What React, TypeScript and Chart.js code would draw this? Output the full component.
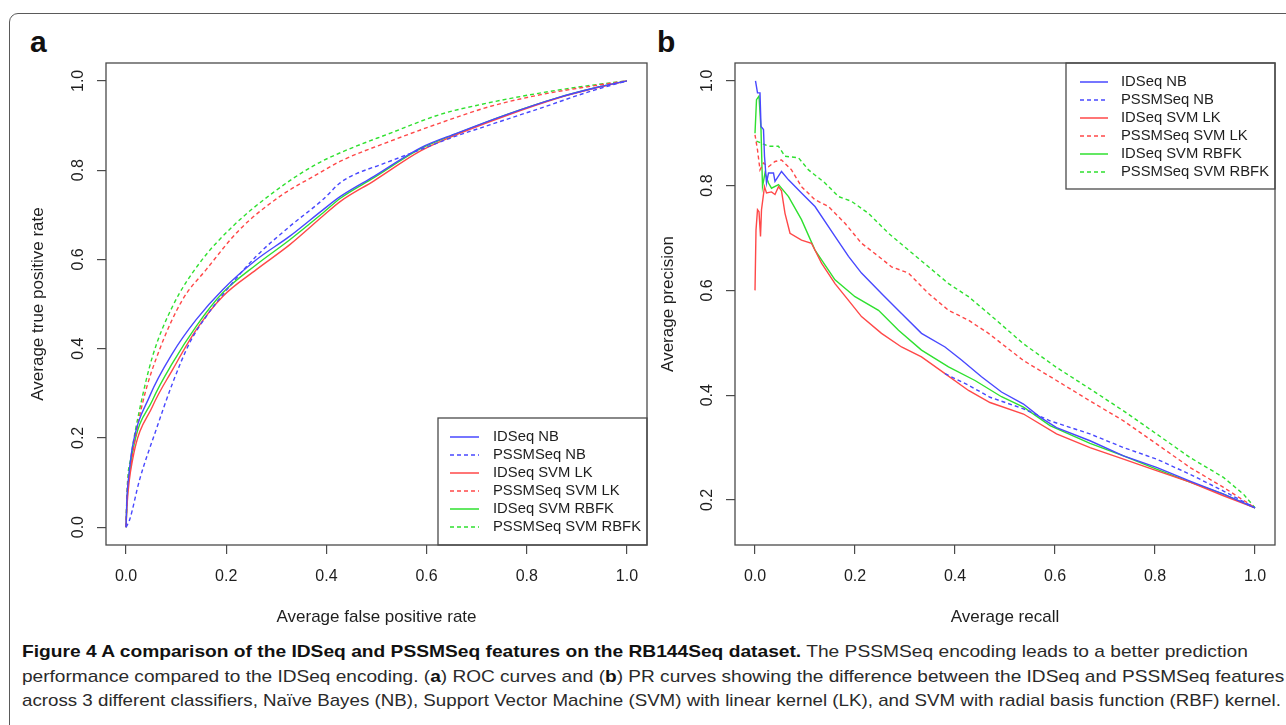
import React, { useEffect, useLayoutEffect, useRef } from "react";
import Chart from "chart.js/auto";

// ---------- shared series meta ----------
const SERIES_LABELS = ["IDSeq NB", "PSSMSeq NB", "IDSeq SVM LK", "PSSMSeq SVM LK", "IDSeq SVM RBFK", "PSSMSeq SVM RBFK"];
const SERIES_COLORS = ["#4848ff", "#4848ff", "#ff4848", "#ff4848", "#2fe02f", "#2fe02f"];
const SERIES_DASH: number[][] = [[], [4, 3], [], [4, 3], [], [4, 3]];

// ---------- tick labels ----------
const ROC_X_TICKS = [0, 0.2, 0.4, 0.6, 0.8, 1.0];
const ROC_Y_TICKS = [0, 0.2, 0.4, 0.6, 0.8, 1.0];
const PR_X_TICKS = [0, 0.2, 0.4, 0.6, 0.8, 1.0];
const PR_Y_TICKS = [0.2, 0.4, 0.6, 0.8, 1.0];

// ---------- (a) ROC curves ----------
const ROC_IDSEQ_NB_FPR = [0, 0.002, 0.005, 0.013, 0.047, 0.093, 0.14, 0.193, 0.26, 0.327, 0.393, 0.428, 0.495, 0.588, 0.661, 0.761, 0.861, 0.935, 1.0];
const ROC_IDSEQ_NB_TPR = [0, 0.07, 0.11, 0.181, 0.293, 0.39, 0.465, 0.532, 0.599, 0.652, 0.711, 0.741, 0.786, 0.85, 0.883, 0.925, 0.962, 0.984, 1.0];

const ROC_PSSMSEQ_NB_FPR = [0, 0.007, 0.027, 0.06, 0.093, 0.127, 0.16, 0.207, 0.26, 0.327, 0.393, 0.428, 0.46, 0.508, 0.588, 0.648, 0.728, 0.828, 0.928, 1.0];
const ROC_PSSMSEQ_NB_TPR = [0, 0.016, 0.106, 0.218, 0.323, 0.413, 0.472, 0.54, 0.607, 0.674, 0.734, 0.772, 0.792, 0.812, 0.846, 0.872, 0.902, 0.939, 0.977, 1.0];

const ROC_IDSEQ_LK_FPR = [0, 0.002, 0.013, 0.053, 0.093, 0.14, 0.193, 0.26, 0.327, 0.393, 0.428, 0.495, 0.588, 0.661, 0.761, 0.861, 0.935, 1.0];
const ROC_IDSEQ_LK_TPR = [0, 0.05, 0.151, 0.271, 0.353, 0.442, 0.517, 0.577, 0.633, 0.697, 0.73, 0.776, 0.843, 0.88, 0.923, 0.961, 0.983, 1.0];

const ROC_PSSMSEQ_LK_FPR = [0, 0.002, 0.01, 0.033, 0.067, 0.113, 0.16, 0.227, 0.307, 0.387, 0.428, 0.528, 0.628, 0.728, 0.828, 0.928, 1.0];
const ROC_PSSMSEQ_LK_TPR = [0, 0.07, 0.143, 0.278, 0.398, 0.51, 0.577, 0.667, 0.741, 0.794, 0.82, 0.865, 0.906, 0.943, 0.969, 0.988, 1.0];

const ROC_IDSEQ_RBFK_FPR = [0, 0.002, 0.013, 0.053, 0.093, 0.14, 0.193, 0.26, 0.327, 0.393, 0.428, 0.495, 0.588, 0.661, 0.761, 0.861, 0.935, 1.0];
const ROC_IDSEQ_RBFK_TPR = [0, 0.06, 0.167, 0.285, 0.368, 0.45, 0.525, 0.588, 0.644, 0.704, 0.737, 0.783, 0.848, 0.882, 0.925, 0.962, 0.984, 1.0];

const ROC_PSSMSEQ_RBFK_FPR = [0, 0.002, 0.01, 0.027, 0.053, 0.093, 0.147, 0.213, 0.293, 0.373, 0.428, 0.528, 0.628, 0.708, 0.828, 0.928, 1.0];
const ROC_PSSMSEQ_RBFK_TPR = [0, 0.08, 0.158, 0.263, 0.383, 0.495, 0.592, 0.674, 0.749, 0.809, 0.839, 0.883, 0.925, 0.947, 0.973, 0.99, 1.0];

// ---------- (b) PR curves ----------
const PR_IDSEQ_NB_REC = [0.001, 0.005, 0.01, 0.012, 0.017, 0.019, 0.023, 0.027, 0.037, 0.04, 0.053, 0.067, 0.093, 0.12, 0.16, 0.187, 0.213, 0.253, 0.293, 0.333, 0.38, 0.413, 0.453, 0.493, 0.537, 0.57, 0.603, 0.67, 0.737, 0.803, 0.87, 0.937, 1.0];
const PR_IDSEQ_NB_PREC = [1.0, 0.977, 0.977, 0.913, 0.907, 0.856, 0.805, 0.824, 0.824, 0.808, 0.827, 0.811, 0.786, 0.76, 0.703, 0.665, 0.633, 0.594, 0.556, 0.518, 0.492, 0.467, 0.435, 0.406, 0.383, 0.358, 0.338, 0.313, 0.284, 0.262, 0.236, 0.211, 0.185];

const PR_PSSMSEQ_NB_REC = [0.38, 0.427, 0.47, 0.537, 0.59, 0.67, 0.737, 0.803, 0.87, 0.937, 1.0];
const PR_PSSMSEQ_NB_PREC = [0.441, 0.419, 0.396, 0.374, 0.351, 0.326, 0.3, 0.278, 0.249, 0.217, 0.185];

const PR_IDSEQ_LK_REC = [0, 0.002, 0.005, 0.008, 0.011, 0.013, 0.019, 0.023, 0.033, 0.04, 0.047, 0.053, 0.06, 0.07, 0.093, 0.113, 0.133, 0.16, 0.187, 0.213, 0.253, 0.293, 0.333, 0.38, 0.427, 0.47, 0.537, 0.603, 0.67, 0.737, 0.803, 0.87, 0.937, 1.0];
const PR_IDSEQ_LK_PREC = [0.6, 0.715, 0.754, 0.75, 0.703, 0.754, 0.798, 0.786, 0.788, 0.783, 0.798, 0.79, 0.747, 0.709, 0.696, 0.69, 0.652, 0.613, 0.581, 0.55, 0.518, 0.492, 0.473, 0.441, 0.409, 0.386, 0.364, 0.326, 0.3, 0.278, 0.256, 0.234, 0.208, 0.185];

const PR_PSSMSEQ_LK_REC = [0, 0.005, 0.01, 0.017, 0.027, 0.04, 0.053, 0.073, 0.093, 0.12, 0.147, 0.18, 0.213, 0.247, 0.273, 0.307, 0.347, 0.387, 0.427, 0.467, 0.537, 0.603, 0.67, 0.737, 0.803, 0.87, 0.937, 1.0];
const PR_PSSMSEQ_LK_PREC = [0.897, 0.868, 0.83, 0.843, 0.836, 0.846, 0.849, 0.83, 0.798, 0.773, 0.76, 0.728, 0.69, 0.665, 0.645, 0.633, 0.594, 0.562, 0.543, 0.518, 0.466, 0.428, 0.389, 0.351, 0.307, 0.262, 0.224, 0.185];

const PR_IDSEQ_RBFK_REC = [0, 0.003, 0.008, 0.012, 0.015, 0.02, 0.027, 0.033, 0.047, 0.067, 0.093, 0.12, 0.16, 0.2, 0.247, 0.287, 0.333, 0.387, 0.44, 0.493, 0.537, 0.59, 0.67, 0.737, 0.803, 0.87, 0.937, 1.0];
const PR_IDSEQ_RBFK_PREC = [0.9, 0.964, 0.971, 0.907, 0.798, 0.824, 0.805, 0.795, 0.802, 0.779, 0.735, 0.677, 0.62, 0.588, 0.562, 0.524, 0.486, 0.454, 0.428, 0.397, 0.377, 0.342, 0.308, 0.284, 0.259, 0.234, 0.211, 0.185];

const PR_PSSMSEQ_RBFK_REC = [0.003, 0.027, 0.047, 0.06, 0.087, 0.107, 0.14, 0.167, 0.193, 0.227, 0.267, 0.307, 0.347, 0.387, 0.427, 0.467, 0.537, 0.603, 0.67, 0.737, 0.803, 0.87, 0.937, 0.977, 1.0];
const PR_PSSMSEQ_RBFK_PREC = [0.885, 0.875, 0.875, 0.856, 0.853, 0.83, 0.805, 0.779, 0.77, 0.747, 0.709, 0.677, 0.645, 0.613, 0.588, 0.556, 0.498, 0.453, 0.412, 0.37, 0.326, 0.281, 0.243, 0.211, 0.185];

const ROC_SERIES = [
  [ROC_IDSEQ_NB_FPR, ROC_IDSEQ_NB_TPR],
  [ROC_PSSMSEQ_NB_FPR, ROC_PSSMSEQ_NB_TPR],
  [ROC_IDSEQ_LK_FPR, ROC_IDSEQ_LK_TPR],
  [ROC_PSSMSEQ_LK_FPR, ROC_PSSMSEQ_LK_TPR],
  [ROC_IDSEQ_RBFK_FPR, ROC_IDSEQ_RBFK_TPR],
  [ROC_PSSMSEQ_RBFK_FPR, ROC_PSSMSEQ_RBFK_TPR],
];
const PR_SERIES = [
  [PR_IDSEQ_NB_REC, PR_IDSEQ_NB_PREC],
  [PR_PSSMSEQ_NB_REC, PR_PSSMSEQ_NB_PREC],
  [PR_IDSEQ_LK_REC, PR_IDSEQ_LK_PREC],
  [PR_PSSMSEQ_LK_REC, PR_PSSMSEQ_LK_PREC],
  [PR_IDSEQ_RBFK_REC, PR_IDSEQ_RBFK_PREC],
  [PR_PSSMSEQ_RBFK_REC, PR_PSSMSEQ_RBFK_PREC],
];

const FONT = "'Liberation Sans', Arial, Helvetica, sans-serif";
const TEXT_COLOR = "#1e1e1e";
const AXIS_COLOR = "#4a4a4a";

// draws full frame around plot region (R's box())
const boxPlugin = {
  id: "rBox",
  afterDraw(chart: any) {
    const { ctx, chartArea: a } = chart;
    ctx.save();
    ctx.strokeStyle = AXIS_COLOR;
    ctx.lineWidth = 1.3;
    ctx.strokeRect(a.left, a.top, a.right - a.left, a.bottom - a.top);
    ctx.restore();
  },
};

// R-style legend box drawn from the dataset definitions
const boxLegendPlugin = {
  id: "boxLegend",
  afterDatasetsDraw(chart: any, _args: any, opts: any) {
    if (!opts || !opts.display) return;
    const { ctx } = chart;
    ctx.save();
    ctx.fillStyle = "#ffffff";
    ctx.fillRect(opts.left, opts.top, opts.right - opts.left, opts.bottom - opts.top);
    ctx.strokeStyle = AXIS_COLOR;
    ctx.lineWidth = 1.3;
    ctx.strokeRect(opts.left, opts.top, opts.right - opts.left, opts.bottom - opts.top);
    ctx.font = `${opts.fontSize}px ${FONT}`;
    ctx.textBaseline = "middle";
    ctx.textAlign = "left";
    chart.data.datasets.forEach((ds: any, i: number) => {
      const y = opts.firstRowY + i * opts.rowGap;
      ctx.strokeStyle = ds.borderColor;
      ctx.lineWidth = 1.5;
      ctx.setLineDash(ds.borderDash || []);
      ctx.beginPath();
      ctx.moveTo(opts.lineX0, y);
      ctx.lineTo(opts.lineX1, y);
      ctx.stroke();
      ctx.setLineDash([]);
      ctx.fillStyle = TEXT_COLOR;
      ctx.fillText(ds.label, opts.textX, y);
    });
    ctx.restore();
  },
};

function buildDatasets(series: number[][][], smooth: boolean) {
  return series.map(([xs, ys], i) => ({
    label: SERIES_LABELS[i],
    data: xs.map((x, j) => ({ x, y: ys[j] })),
    borderColor: SERIES_COLORS[i],
    borderDash: SERIES_DASH[i],
    borderWidth: 1.4,
    pointRadius: 0,
    fill: false,
    cubicInterpolationMode: smooth ? "monotone" : "default",
    tension: 0,
  }));
}

function axisCfg(o: any) {
  return {
    type: "linear",
    min: o.min,
    max: o.max,
    afterBuildTicks: (s: any) => {
      s.ticks = o.ticks.map((v: number) => ({ value: v }));
    },
    afterFit: (s: any) => {
      if (o.height !== undefined) s.height = o.height;
      if (o.width !== undefined) s.width = o.width;
    },
    border: { display: false },
    grid: { display: true, drawOnChartArea: false, drawTicks: true, tickLength: 9, color: AXIS_COLOR, lineWidth: 1.2 },
    ticks: {
      color: TEXT_COLOR,
      font: { family: FONT, size: 16 },
      padding: o.tickPad,
      minRotation: o.rot,
      maxRotation: o.rot,
      crossAlign: o.rot ? "center" : "near",
      autoSkip: false,
      callback: (v: any) => Number(v).toFixed(1),
    },
    title: {
      display: true,
      text: o.title,
      color: TEXT_COLOR,
      font: { family: FONT, size: 17 },
      padding: o.titlePad,
    },
  };
}

function makeChart(canvas: HTMLCanvasElement, cfg: any) {
  return new Chart(canvas, {
    type: "line",
    data: { datasets: buildDatasets(cfg.series, cfg.smooth) as any },
    options: {
      responsive: false,
      animation: false,
      events: [],
      layout: { padding: cfg.padding },
      plugins: {
        legend: { display: false },
        tooltip: { enabled: false },
        title: { display: false },
        boxLegend: cfg.legend,
      } as any,
      scales: {
        x: axisCfg(cfg.x),
        y: axisCfg(cfg.y),
      } as any,
    },
    plugins: [boxPlugin, boxLegendPlugin],
  });
}

const CAPTION_TARGET_WIDTHS = [1226, 1262, 1259];

export default function App() {
  const rocRef = useRef<HTMLCanvasElement>(null);
  const prRef = useRef<HTMLCanvasElement>(null);
  const capRefs = useRef<(HTMLDivElement | null)[]>([]);

  useEffect(() => {
    const prev = document.body.style.margin;
    document.body.style.margin = "0";
    const roc = makeChart(rocRef.current!, {
      series: ROC_SERIES,
      smooth: true,
      padding: { top: 63, right: 8, left: 0, bottom: 0 },
      x: { min: -0.04, max: 1.04, ticks: ROC_X_TICKS, height: 95, tickPad: 13, title: "Average false positive rate", titlePad: { top: 0, bottom: 12.8 } },
      y: { min: -0.04, max: 1.04, ticks: ROC_Y_TICKS, width: 106, tickPad: 7, rot: 90, title: "Average true positive rate", titlePad: { top: 27.8, bottom: 0 } },
      legend: { display: true, left: 438, right: 647, top: 418, bottom: 545, lineX0: 450, lineX1: 479, textX: 493, firstRowY: 437, rowGap: 18, fontSize: 14.8 },
    });
    const pr = makeChart(prRef.current!, {
      series: PR_SERIES,
      smooth: false,
      padding: { top: 63, right: 11, left: 0, bottom: 0 },
      x: { min: -0.04, max: 1.04, ticks: PR_X_TICKS, height: 95, tickPad: 13, title: "Average recall", titlePad: { top: 0, bottom: 12.8 } },
      y: { min: 0.114, max: 1.034, ticks: PR_Y_TICKS, width: 80, tickPad: 7, rot: 90, title: "Average precision", titlePad: { top: 2.8, bottom: 0 } },
      legend: { display: true, left: 411, right: 620, top: 63, bottom: 189, lineX0: 425, lineX1: 453, textX: 466, firstRowY: 82, rowGap: 18, fontSize: 14.8 },
    });
    return () => {
      roc.destroy();
      pr.destroy();
      document.body.style.margin = prev;
    };
  }, []);

  useLayoutEffect(() => {
    capRefs.current.forEach((el, i) => {
      if (!el) return;
      const w = el.scrollWidth;
      if (w > 0) el.style.transform = `scaleX(${CAPTION_TARGET_WIDTHS[i] / w})`;
    });
  }, []);

  const capStyle = (top: number): React.CSSProperties => ({
    position: "absolute",
    left: 22,
    top,
    whiteSpace: "nowrap",
    transformOrigin: "0 0",
    fontFamily: "'Liberation Sans Narrow', 'Liberation Sans', Arial, sans-serif",
    fontSize: 17,
    lineHeight: "20px",
    color: "#2a2a2a",
  });

  return (
    <div style={{ position: "absolute", left: 0, top: 0, width: 1286, height: 725, overflow: "hidden", background: "#fff" }}>
      <div style={{ position: "absolute", left: 9, top: 13, width: 1320, height: 760, border: "1.5px solid #5a5a5a", borderRadius: 9 }} />
      <div style={{ position: "absolute", left: 30, top: 27, fontFamily: FONT, fontWeight: "bold", fontSize: 30, lineHeight: "30px", color: "#111" }}>a</div>
      <div style={{ position: "absolute", left: 657, top: 27, fontFamily: FONT, fontWeight: "bold", fontSize: 30, lineHeight: "30px", color: "#111" }}>b</div>
      <canvas ref={rocRef} width={655} height={640} style={{ position: "absolute", left: 0, top: 0, width: 655, height: 640 }} />
      <canvas ref={prRef} width={631} height={640} style={{ position: "absolute", left: 655, top: 0, width: 631, height: 640 }} />
      <div ref={(el) => { capRefs.current[0] = el; }} style={capStyle(642)}>
        <b style={{ color: "#111" }}>Figure 4 A comparison of the IDSeq and PSSMSeq features on the RB144Seq dataset.</b> The PSSMSeq encoding leads to a better prediction
      </div>
      <div ref={(el) => { capRefs.current[1] = el; }} style={capStyle(667)}>
        performance compared to the IDSeq encoding. (<b style={{ color: "#111" }}>a</b>) ROC curves and (<b style={{ color: "#111" }}>b</b>) PR curves showing the difference between the IDSeq and PSSMSeq features
      </div>
      <div ref={(el) => { capRefs.current[2] = el; }} style={capStyle(691)}>
        across 3 different classifiers, Naïve Bayes (NB), Support Vector Machine (SVM) with linear kernel (LK), and SVM with radial basis function (RBF) kernel.
      </div>
    </div>
  );
}
